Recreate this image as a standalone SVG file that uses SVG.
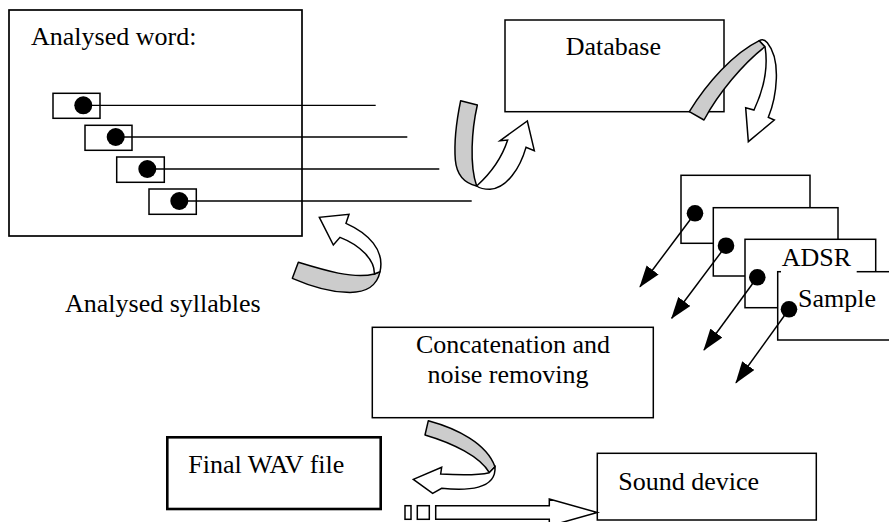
<svg xmlns="http://www.w3.org/2000/svg" width="889" height="522" viewBox="0 0 889 522">
<style>
  text { font-family: "Liberation Serif", "Times New Roman", serif; font-size: 26px; fill: #000; }
  .box { fill: #fff; stroke: #000; stroke-width: 1.5; }
  .thick { fill: #fff; stroke: #000; stroke-width: 2.6; }
  .ln { stroke: #000; stroke-width: 1.3; fill: none; }
  .dot { fill: #000; }
  .grey { fill: #cccccc; stroke: #000; stroke-width: 4.5; stroke-linejoin: round; }
  .white { fill: #fff; stroke: #000; stroke-width: 4.5; stroke-linejoin: miter; }
</style>
<defs>
  <marker id="tri" markerUnits="userSpaceOnUse" markerWidth="22" markerHeight="15" refX="21" refY="7.5" orient="auto">
    <path d="M0,0 L22,7.5 L0,15 Z" fill="#000"/>
  </marker>
</defs>
<rect width="889" height="522" fill="#fff"/>

<g id="analysed-word">
  <rect class="box" x="9" y="10" width="293" height="226" style="stroke-width:1.7"/>
  <text x="31" y="45">Analysed word:</text>
  <rect class="box" x="53" y="93.3" width="47" height="25"/>
  <rect class="box" x="85" y="125.3" width="47" height="25"/>
  <rect class="box" x="116.7" y="157" width="47.6" height="25.3"/>
  <rect class="box" x="149" y="189" width="47.3" height="25.3"/>
</g>

<g id="analysed-syllables">
  <text x="65" y="311.7">Analysed syllables</text>
</g>

<g id="database">
  <rect class="box" x="505" y="20" width="219" height="91.7"/>
  <text x="565.7" y="55">Database</text>
</g>

<g id="adsr-samples">
  <rect class="box" x="681" y="175.3" width="129" height="68"/>
  <rect class="box" x="713.3" y="207.7" width="124.7" height="68.3"/>
  <rect class="box" x="745" y="239.3" width="130.7" height="68.4"/>
  <rect class="box" x="777.7" y="271.7" width="130" height="68.3"/>
  <rect x="781" y="244" width="75.7" height="30" fill="#fff"/>
  <text x="781.7" y="266">ADSR</text>
  <text x="798" y="306.7">Sample</text>
</g>

<g id="concatenation">
  <rect class="box" x="372.3" y="327.3" width="281" height="90.4"/>
  <text x="513" y="352.5" text-anchor="middle">Concatenation and</text>
  <text x="508" y="383" text-anchor="middle">noise removing</text>
</g>

<g id="final-wav">
  <rect class="thick" x="167.3" y="437.3" width="213.4" height="71.7"/>
  <text x="188.3" y="473.3">Final WAV file</text>
</g>

<g id="sound-device">
  <rect class="box" x="597.3" y="453.3" width="219" height="66.7"/>
  <text x="618.3" y="490">Sound device</text>
</g>

<g id="connectors">
  <!-- syllable lines -->
  <line class="ln" x1="83.3" y1="105.3" x2="375.7" y2="105.3"/>
  <line class="ln" x1="115.7" y1="137" x2="407.3" y2="137"/>
  <line class="ln" x1="147.3" y1="169" x2="439.3" y2="169"/>
  <line class="ln" x1="179.3" y1="201" x2="471.7" y2="201"/>
  <circle class="dot" cx="83.3" cy="105.3" r="9"/>
  <circle class="dot" cx="115.7" cy="137" r="9"/>
  <circle class="dot" cx="147.3" cy="169" r="9"/>
  <circle class="dot" cx="179.3" cy="201" r="9"/>

  <!-- sample arrows -->
  <line class="ln" x1="695" y1="213.3" x2="640" y2="286.7" style="stroke-width:1.5" marker-end="url(#tri)"/>
  <line class="ln" x1="726" y1="245.7" x2="671.7" y2="318.3" style="stroke-width:1.5" marker-end="url(#tri)"/>
  <line class="ln" x1="757.3" y1="277.3" x2="704" y2="350" style="stroke-width:1.5" marker-end="url(#tri)"/>
  <line class="ln" x1="789" y1="309.3" x2="736" y2="382.7" style="stroke-width:1.5" marker-end="url(#tri)"/>
  <circle class="dot" cx="695" cy="213.3" r="8.3"/>
  <circle class="dot" cx="726" cy="245.7" r="8.3"/>
  <circle class="dot" cx="757.3" cy="277.3" r="8.3"/>
  <circle class="dot" cx="789" cy="309.3" r="8.3"/>

  <!-- curved arrow: syllables -> word -->
  <g transform="translate(280,200) scale(0.33333)">
    <path class="grey" d="M55,187 C130,210 220,238 283,222 L300,215 C292,255 260,280 200,277 C140,275 90,258 37,235 Z"/>
    <path class="white" d="M283,222 C285,180 240,135 180,112 L160,135 L118,52 L207,43 L198,70 C265,100 315,150 300,215 Z"/>
  </g>
  <!-- curved arrow: -> database -->
  <g transform="translate(440,90) scale(0.33333)">
    <path class="grey" d="M62,32 L112,45 C95,120 88,225 110,288 C75,280 50,255 46,210 C42,160 48,100 62,32 Z"/>
    <path class="white" d="M110,288 C150,252 185,205 203,150 L180,152 L262,93 L283,182 L258,172 C240,235 200,295 150,298 C132,298 118,294 110,288 Z"/>
  </g>
  <!-- curved arrow: database -> samples -->
  <g transform="translate(680,30) scale(0.33333)">
    <path class="grey" d="M28,245 C80,160 160,70 238,32 L255,50 C190,100 115,190 72,270 Z"/>
    <path class="white" d="M255,50 C265,110 250,180 222,240 L197,233 L205,335 L283,270 L265,262 C290,200 305,90 262,38 C255,30 245,28 238,32 Z"/>
  </g>
  <!-- curved arrow: concatenation -> final wav -->
  <g transform="translate(380,410) scale(0.33333)">
    <path class="grey" d="M145,32 C230,55 320,100 345,170 L328,188 C300,140 220,100 135,75 Z"/>
    <path class="white" d="M328,188 C290,197 230,195 182,192 L185,172 L100,208 L158,250 L185,235 C260,242 350,240 345,170 Z"/>
  </g>

  <!-- striped block arrow: final wav -> sound device -->
  <rect class="box" x="405" y="505.7" width="6" height="13.6"/>
  <rect class="box" x="417.3" y="505.7" width="12" height="13.6"/>
  <path class="box" d="M435.7,505.7 L549.3,505.7 L549.3,499 L597.3,512.5 L549.3,526 L549.3,519.3 L435.7,519.3 Z"/>
</g>
</svg>
